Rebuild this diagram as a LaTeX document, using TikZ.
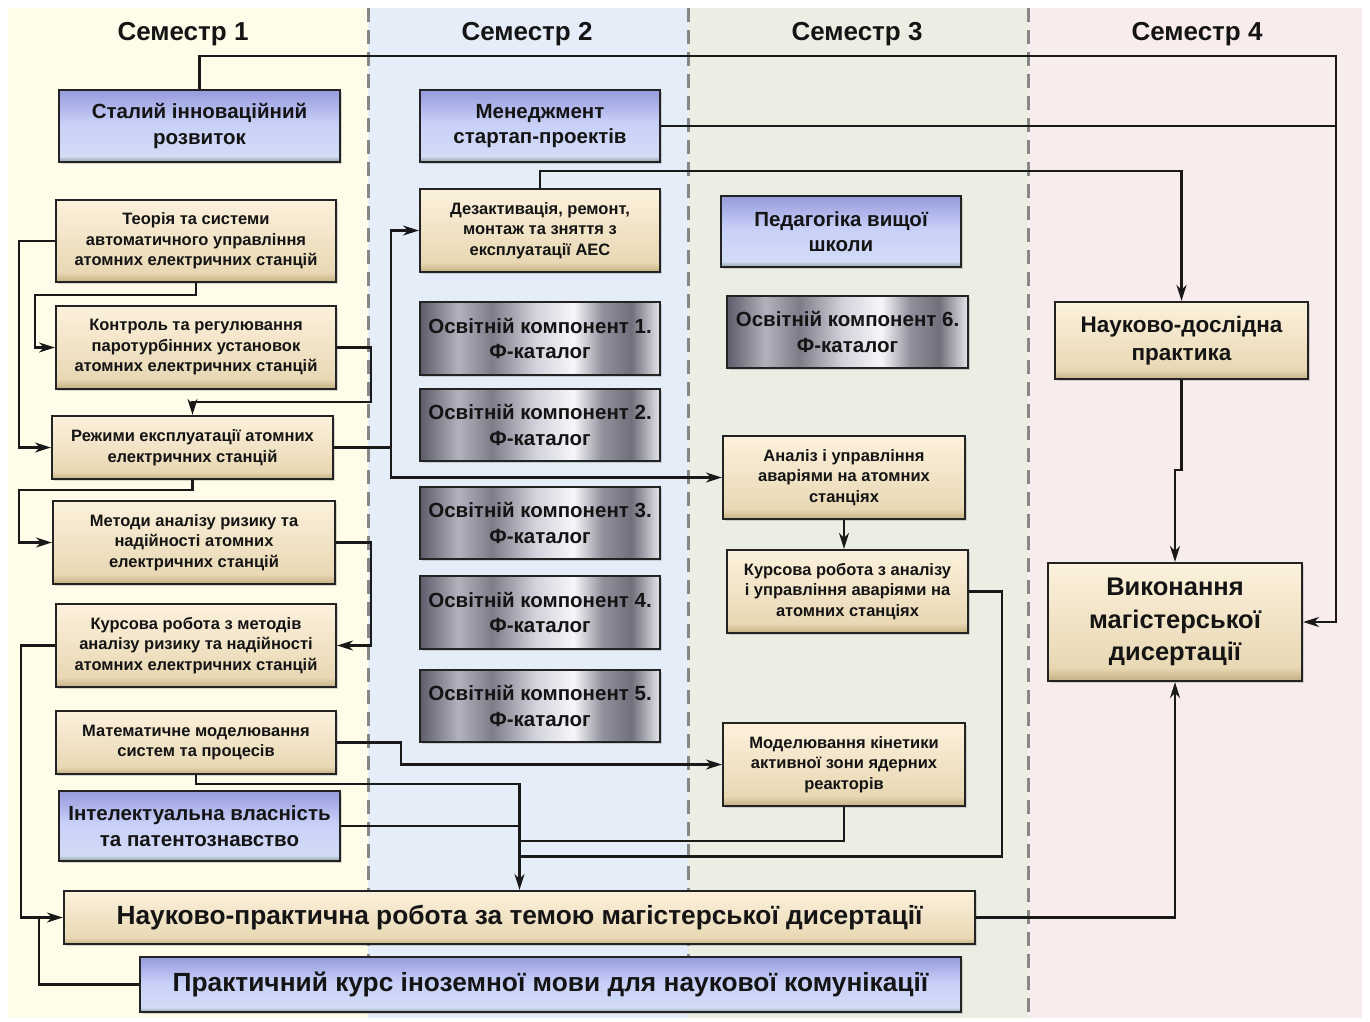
\documentclass[tikz,border=0pt]{standalone}
\usepackage{fontspec}
\setmainfont{Liberation Sans}
\usetikzlibrary{arrows.meta,shadows,calc}
\definecolor{bgA}{RGB}{255,253,234}
\definecolor{bgB}{RGB}{229,237,248}
\definecolor{bgC}{RGB}{235,238,227}
\definecolor{bgD}{RGB}{248,237,236}
\definecolor{sepcol}{RGB}{135,135,135}
\definecolor{boxline}{RGB}{35,35,35}
\definecolor{txt}{RGB}{20,20,20}
\definecolor{tanT}{RGB}{252,241,220}
\definecolor{tanM}{RGB}{232,216,180}
\definecolor{tanB}{RGB}{196,176,130}
\definecolor{blT}{RGB}{150,155,220}
\definecolor{blM}{RGB}{200,208,248}
\definecolor{blL}{RGB}{210,220,246}
\definecolor{blB}{RGB}{140,160,158}
\definecolor{mA}{RGB}{92,92,106}
\definecolor{mB}{RGB}{178,178,190}
\definecolor{mC}{RGB}{125,125,138}
\definecolor{mD}{RGB}{210,210,220}
\definecolor{mE}{RGB}{246,246,250}
\definecolor{mF}{RGB}{145,145,158}
\definecolor{mG}{RGB}{112,112,125}
\definecolor{mH}{RGB}{228,228,235}
\pgfdeclareverticalshading{tanshade}{100bp}{color(0bp)=(tanB); color(25bp)=(tanB); color(31bp)=(tanM); color(75bp)=(tanT); color(100bp)=(tanT)}
\pgfdeclareverticalshading{blueshade}{100bp}{color(0bp)=(blB); color(25bp)=(blB); color(29bp)=(blL); color(52bp)=(blM); color(75bp)=(blT); color(100bp)=(blT)}
\pgfdeclarehorizontalshading{metalshade}{100bp}{color(0bp)=(mA); color(25bp)=(mA); color(33bp)=(mB); color(40bp)=(mC); color(49bp)=(mD); color(57bp)=(mE); color(63bp)=(mF); color(69bp)=(mG); color(75bp)=(mH); color(100bp)=(mH)}
\tikzset{
  box/.style={draw=boxline, line width=2.2pt, inner sep=2pt, align=center, text=txt,
    drop shadow={shadow xshift=2pt, shadow yshift=-2pt, opacity=0.3}},
  tanbox/.style={box, shading=tanshade},
  bluebox/.style={box, shading=blueshade},
  metalbox/.style={box, shading=metalshade},
  fsmall/.style={font=\bfseries\fontsize{16.5}{20.5}\selectfont},
  fmid/.style={font=\bfseries\fontsize{20.5}{25.5}\selectfont},
  fbig/.style={font=\bfseries\fontsize{26.3}{30}\selectfont},
  fhead/.style={font=\bfseries\fontsize{26}{28}\selectfont, text=txt},
  conn/.style={line width=2.4pt, draw=black!90},
  arr/.style={conn, -{Stealth[length=16pt,width=10pt,inset=5pt]}},
  sep/.style={draw=sepcol, line width=3pt, dash pattern=on 14pt off 8pt},
}
\begin{document}
\begin{tikzpicture}[x=1pt,y=-1pt]
\useasboundingbox (0,0) rectangle (1370,1021);
% backgrounds
\fill[bgA] (8,8) rectangle (368,1018);
\fill[bgB] (368,8) rectangle (688,1018);
\fill[bgC] (688,8) rectangle (1028,1018);
\fill[bgD] (1028,8) rectangle (1362,1018);
\draw[sep] (368,8) -- (368,1018);
\draw[sep] (688,8) -- (688,1018);
\draw[sep] (1028,8) -- (1028,1018);
% headers
\node[fhead] (h1) at (183,34) {Семестр 1};
\node[fhead] (h2) at (527,34) {Семестр 2};
\node[fhead] (h3) at (857,34) {Семестр 3};
\node[fhead] (h4) at (1197,34) {Семестр 4};
% semester 1
\node[bluebox, fmid, minimum width=281pt, minimum height=72pt] (sir) at (199.5,126) {Сталий інноваційний\\розвиток};
\node[tanbox, fsmall, minimum width=280pt, minimum height=82pt] (teo) at (196,241) {Теорія та системи\\автоматичного управління\\атомних електричних станцій};
\node[tanbox, fsmall, minimum width=280pt, minimum height=83pt] (kon) at (196,347.5) {Контроль та регулювання\\паротурбінних установок\\атомних електричних станцій};
\node[tanbox, fsmall, minimum width=281pt, minimum height=63pt] (rez) at (192.5,447.5) {Режими експлуатації атомних\\електричних станцій};
\node[tanbox, fsmall, minimum width=282pt, minimum height=83pt] (met) at (194,542.5) {Методи аналізу ризику та\\надійності атомних\\електричних станцій};
\node[tanbox, fsmall, minimum width=280pt, minimum height=83pt] (kr1) at (196,645.5) {Курсова робота з методів\\аналізу ризику та надійності\\атомних електричних станцій};
\node[tanbox, fsmall, minimum width=280pt, minimum height=63pt] (mat) at (196,742.5) {Математичне моделювання\\систем та процесів};
\node[bluebox, fmid, minimum width=281pt, minimum height=70pt] (int) at (199.5,826) {Інтелектуальна власність\\та патентознавство};
% semester 2
\node[bluebox, fmid, minimum width=240pt, minimum height=72pt] (msp) at (540,126) {Менеджмент\\стартап-проектів};
\node[tanbox, fsmall, minimum width=240pt, minimum height=83pt] (dez) at (540,230.5) {Дезактивація, ремонт,\\монтаж та зняття з\\експлуатації АЕС};
\node[metalbox, fmid, minimum width=240pt, minimum height=73pt] (ok1) at (540,338.5) {Освітній компонент 1.\\Ф-каталог};
\node[metalbox, fmid, minimum width=240pt, minimum height=72pt] (ok2) at (540,425) {Освітній компонент 2.\\Ф-каталог};
\node[metalbox, fmid, minimum width=240pt, minimum height=72pt] (ok3) at (540,523) {Освітній компонент 3.\\Ф-каталог};
\node[metalbox, fmid, minimum width=240pt, minimum height=73pt] (ok4) at (540,612.5) {Освітній компонент 4.\\Ф-каталог};
\node[metalbox, fmid, minimum width=240pt, minimum height=72pt] (ok5) at (540,706) {Освітній компонент 5.\\Ф-каталог};
% semester 3
\node[bluebox, fmid, minimum width=240pt, minimum height=71pt] (ped) at (841,231.5) {Педагогіка вищої\\школи};
\node[metalbox, fmid, minimum width=241pt, minimum height=72pt] (ok6) at (847.5,332) {Освітній компонент 6.\\Ф-каталог};
\node[tanbox, fsmall, minimum width=242pt, minimum height=83pt] (anl) at (844,477.5) {Аналіз і управління\\аваріями на атомних\\станціях};
\node[tanbox, fsmall, minimum width=241pt, minimum height=83pt] (kr2) at (847.5,591.5) {Курсова робота з аналізу\\і управління аваріями на\\атомних станціях};
\node[tanbox, fsmall, minimum width=242pt, minimum height=83pt] (mod) at (844,764.5) {Моделювання кінетики\\активної зони ядерних\\реакторів};
% semester 4
\node[tanbox, font=\bfseries\fontsize{22.5}{27.5}\selectfont, minimum width=253pt, minimum height=77pt] (ndp) at (1181.5,340.5) {Науково-дослідна\\практика};
\node[tanbox, font=\bfseries\fontsize{25.5}{32.5}\selectfont, minimum width=254pt, minimum height=118pt] (vyk) at (1175,622) {Виконання\\магістерської\\дисертації};
% bottom
\node[tanbox, fbig, minimum width=911pt, minimum height=53pt] (npr) at (519.5,917.5) {Науково-практична робота за темою магістерської дисертації};
\node[bluebox, fbig, minimum width=821pt, minimum height=55pt] (pkm) at (550.5,984.5) {Практичний курс іноземної мови для наукової комунікації};
% connectors
\coordinate (tr) at (1336,56);
\draw[arr] (sir.north) |- (tr) |- (vyk.east);
\draw[conn] (msp.east) -- (msp.east -| tr);
\draw[arr] (dez.north) -- ++(0,-17) -| (ndp.north);
\draw[arr] (teo.west) -- ++(-36,0) |- (rez.west);
\draw[arr] (teo.south) -- ++(0,12) -| ([xshift=-20pt]kon.west) -- (kon.west);
\draw[arr] (kon.east) -- ++(34,0) |- ($(rez.north)+(0,-13)$) -- (rez.north);
\coordinate (g) at ([xshift=57pt]rez.east);
\draw[arr] (rez.east) -- (g) |- (dez.west);
\draw[arr] (g) |- (anl.west);
\draw[arr] (rez.south) -- ++(0,10) -| ([xshift=-33pt]met.west) -- (met.west);
\draw[arr] (met.east) -- ++(35,0) |- (kr1.east);
\draw[arr] (kr1.west) -- ++(-34,0) |- (npr.west);
\draw[conn] (pkm.west) -| ([xshift=-24pt]npr.west);
\draw[arr] (mat.east) -- ++(64,0) |- (mod.west);
\draw[arr] (mat.south) -- ++(0,9) -| (npr.north);
\draw[conn] (int.east) -- (int.east -| npr.north);
\draw[conn] (mod.south) -- ++(0,34) coordinate (n1) -- (n1 -| npr.north);
\draw[conn] (kr2.east) -- ++(33,0) -- ++(0,265) coordinate (o2) -- (o2 -| npr.north);
\draw[arr] (anl.south) -- (anl.south |- kr2.north);
\draw[arr] (ndp.south) -- ++(0,90) -| (vyk.north);
\draw[arr] (npr.east) -| (vyk.south);
\end{tikzpicture}
\end{document}
